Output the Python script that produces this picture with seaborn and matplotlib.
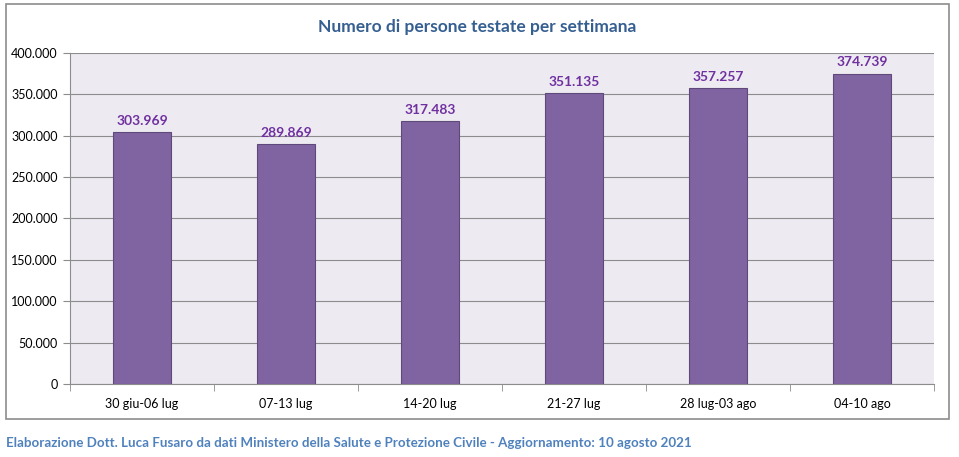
import matplotlib
matplotlib.use("Agg")
import matplotlib.pyplot as plt
import matplotlib.ticker as mticker
from matplotlib.patches import Rectangle
import seaborn as sns
import pandas as pd

weeks = ["30 giu-06 lug", "07-13 lug", "14-20 lug", "21-27 lug", "28 lug-03 ago", "04-10 ago"]
tested = [303969, 289869, 317483, 351135, 357257, 374739]
yticks = [0, 50000, 100000, 150000, 200000, 250000, 300000, 350000, 400000]

title = "Numero di persone testate per settimana"
footer = "Elaborazione Dott. Luca Fusaro da dati Ministero della Salute e Protezione Civile - Aggiornamento: 10 agosto 2021"

sns.set_style("white")
plt.rcParams['font.family'] = ['Lato', 'DejaVu Sans']

df = pd.DataFrame({"week": weeks, "tested": tested})

fig = plt.figure(figsize=(9.59, 4.57), dpi=100)
ax = fig.add_axes([70/959, 1-384/457, 864/959, 331/457])
ax.set_facecolor("#EDEBF1")

sns.barplot(data=df, x="week", y="tested", ax=ax, color="#8064A2", width=0.4,
            edgecolor="#5F497A", linewidth=0.8, saturation=1, zorder=3)

def fmt(v, pos=None):
    return f"{int(v):,}".replace(",", ".")

ax.set_ylim(0, 400000)
ax.set_xlim(-0.5, len(weeks)-0.5)
ax.set_yticks(yticks)
ax.yaxis.set_major_formatter(mticker.FuncFormatter(fmt))
ax.grid(axis="y", color="#8C8C8C", linewidth=0.8, zorder=0)
ax.set_axisbelow(True)
ax.set_xlabel("")
ax.set_ylabel("")

for sp in ["top", "right"]:
    ax.spines[sp].set_visible(False)
ax.spines["left"].set_color("#8C8C8C")
ax.spines["bottom"].set_color("#8C8C8C")

ax.tick_params(axis="y", length=5, color="#8C8C8C", labelsize=9, pad=4, left=True, labelcolor="#000000")
ax.tick_params(axis="x", length=0, labelsize=9, pad=10, labelcolor="#000000")
# category boundary ticks
ax.set_xticks([i - 0.5 for i in range(len(weeks)+1)], minor=True)
ax.tick_params(axis="x", which="minor", length=5, color="#8C8C8C", bottom=True)

for i, v in enumerate(tested):
    ax.annotate(fmt(v), (i, v), xytext=(0, 4), textcoords="offset points",
                ha="center", va="bottom", fontsize=10, fontweight="bold", color="#7030A0")

fig.text(477/959, 1-27/457, title, ha="center", va="center", fontsize=12.5,
         fontweight="bold", color="#365F91")

fig.patches.append(Rectangle((6/959, 1-419/457), 943/959, 415/457, transform=fig.transFigure,
                             fill=False, edgecolor="#8C8C8C", linewidth=1.2))

fig.text(6/959, 1-443/457, footer, ha="left", va="center", fontsize=9.6,
         fontweight="bold", color="#4F81BD")

fig.savefig("out.png", dpi=100, facecolor="white")
